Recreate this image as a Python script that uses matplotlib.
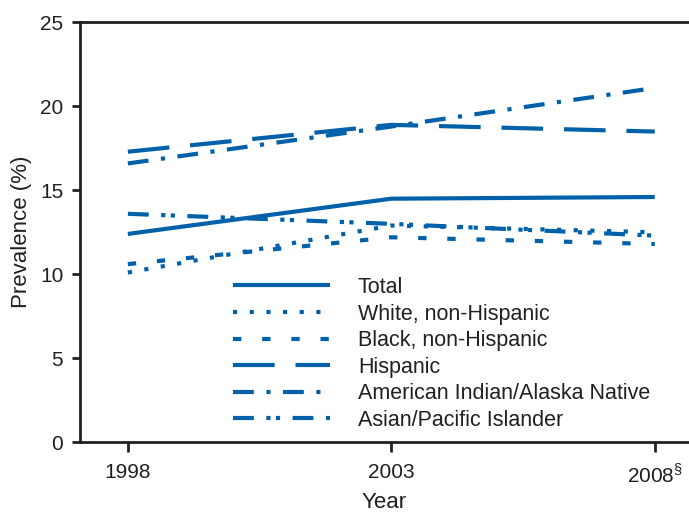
import matplotlib.pyplot as plt

plt.rcParams['font.family'] = ['Liberation Sans', 'DejaVu Sans']
plt.rcParams['mathtext.fontset'] = 'custom'
plt.rcParams['mathtext.rm'] = 'Liberation Sans'

# data
years = [1998, 2003, 2008]
year_labels = ['1998', '2003', r'2008$^{\S}$']
total = [12.4, 14.5, 14.6]
white = [10.1, 12.9, 12.5]
black = [10.6, 12.2, 11.8]
hispanic = [17.3, 18.9, 18.5]
aian = [16.6, 18.8, 21.1]
asian = [13.6, 13.0, 12.3]

blue = '#0061AA'
ink = '#231f20'

series = [
    ('Total', total, '-'),
    ('White, non-Hispanic', white, (0, (1, 3))),
    ('Black, non-Hispanic', black, (0, (2, 5))),
    ('Hispanic', hispanic, (0, (10, 5))),
    ('American Indian/Alaska Native', aian, (0, (5, 3, 1, 3))),
    ('Asian/Pacific Islander', asian, (0, (5, 3, 1, 1.3, 1, 3))),
]

fig = plt.figure(figsize=(6.89, 5.16), dpi=100)
ax = fig.add_axes([0.116, 0.1434, 0.884, 0.8130])

for name, vals, ls in series:
    ax.plot(years, vals, color=blue, lw=3, linestyle=ls, label=name,
            dash_capstyle='butt', solid_capstyle='butt')

ax.set_xlim(1997.09, 2008.65)
ax.set_ylim(0, 25)
ax.set_yticks([0, 5, 10, 15, 20, 25])
ax.set_xticks(years)
ax.set_xticklabels(year_labels)

for side in ['left', 'top', 'bottom']:
    ax.spines[side].set_linewidth(2)
    ax.spines[side].set_color(ink)
ax.spines['right'].set_visible(False)

ax.tick_params(axis='y', length=6, width=2, color=ink, labelsize=15, labelcolor=ink, pad=6)
ax.tick_params(axis='x', length=7, width=2, color=ink, labelsize=15, labelcolor=ink, pad=8)

ax.set_ylabel('Prevalence (%)', fontsize=16, color=ink, labelpad=6)
ax.set_xlabel('Year', fontsize=16, color=ink, labelpad=4)

leg = fig.legend(loc='upper left', bbox_to_anchor=(233 / 689, 1 - 277 / 516),
                 frameon=False, fontsize=15.5, handlelength=4.5, handletextpad=1.3,
                 labelspacing=0.26, borderpad=0, borderaxespad=0)
for t in leg.get_texts():
    t.set_color(ink)

fig.savefig('out.png', dpi=100)
